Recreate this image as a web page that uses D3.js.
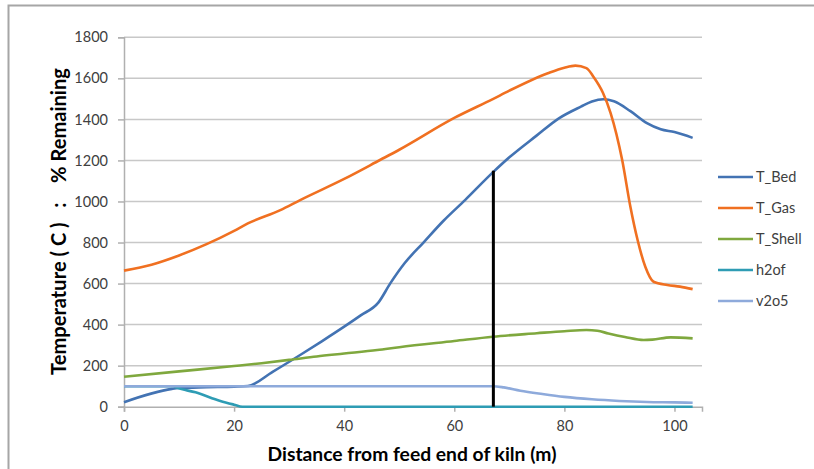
<!DOCTYPE html>
<html><head><meta charset="utf-8">
<script src="https://cdn.jsdelivr.net/npm/d3@7"></script>
<style>body{margin:0;background:#fff}svg{display:block}</style>
</head><body>
<script>
const xTicks = [0,20,40,60,80,100];
const yTicks = [0,200,400,600,800,1000,1200,1400,1600,1800];
const seriesNames = ["T_Bed","T_Gas","T_Shell","h2of","v2o5"];
const colors = ["#4373b3","#f07021","#7fa83e","#2e9cb4","#8eaadb"];
const tBed = [[0,22],[8.7,87],[10,91],[15,95],[20,98],[22.5,101],[27,170],[32,252],[36,320],[40,390],[43,445],[46.2,507],[48.4,602],[51,700],[54.4,800],[58,905],[62,1008],[67.1,1144],[70,1215],[75,1322],[79,1405],[83,1462],[85,1487],[87.1,1498],[89,1488],[92,1440],[95,1382],[97.5,1352],[100,1338],[103.3,1310]];
const tGas = [[0,663],[5,692],[10,737],[15,792],[20,857],[22.5,893],[28.4,958],[32,1007],[40,1110],[46.5,1202],[50,1252],[60,1407],[67,1499],[70,1540],[77,1625],[80,1652],[82,1662],[84,1650],[85.3,1607],[87,1530],[88.4,1431],[90.5,1202],[92,973],[93.3,812],[94.7,682],[96.2,609],[98.7,593],[101,585],[103.3,573]];
const tShell = [[0,146],[10,172],[20,198],[25,212],[30,228],[35,245],[40,259],[46,276],[50,290],[60,320],[67,341],[75,358],[80,368],[84,374],[86,370],[88,357],[91,340],[94.4,325],[96,327],[99.3,338],[103.3,333]];
const h2of = [[0,100],[9,100],[9.6,93],[13,70],[17.5,28],[20,10],[21.5,0],[40,0],[60,0],[80,0],[103.3,0]];
const v2o5 = [[0,100],[20,100],[40,100],[60,100],[67,100],[69,94],[72,78],[76,62],[80,48],[85,36],[90,28],[95,23],[100,21],[103.3,19]];
const markerX = 67.1, markerY = 1150;

const W=814,H=469;
const svg=d3.select("body").append("svg").attr("width",W).attr("height",H);
svg.append("rect").attr("x",8.5).attr("y",5.5).attr("width",830).attr("height",490).attr("fill","#fff").attr("stroke","#a6a6a6").attr("stroke-width",2);

const x=d3.scaleLinear().domain([0,105]).range([124,702]);
const y=d3.scaleLinear().domain([0,1800]).range([406.7,37.3]);
const font="Lato, 'Open Sans', sans-serif";

svg.append("g").selectAll("line").data(yTicks.filter(d=>d>0)).join("line")
  .attr("x1",x(0)).attr("x2",x(105)).attr("y1",d=>y(d)).attr("y2",d=>y(d))
  .attr("stroke","#c8c8c8").attr("stroke-width",1.5);

const yAxis=svg.append("g").attr("transform",`translate(${x(0)},0)`)
  .call(d3.axisLeft(y).tickValues(yTicks).tickFormat(d3.format("d")).tickSize(6).tickPadding(10));
const xAxis=svg.append("g").attr("transform",`translate(0,${y(0)})`)
  .call(d3.axisBottom(x).tickValues(xTicks).tickFormat(d3.format("d")).tickSize(5).tickPadding(9));
[yAxis,xAxis].forEach(g=>{
  g.select(".domain").attr("stroke","#b0b0b0").attr("stroke-width",1.5);
  g.selectAll(".tick line").attr("stroke","#b0b0b0").attr("stroke-width",1.5);
  g.selectAll("text").attr("font-family",font).attr("font-size",14.5).attr("fill","#404040");
});

const line=d3.line().x(d=>x(d[0])).y(d=>y(d[1])).curve(d3.curveMonotoneX);
const data=[tBed,tGas,tShell,h2of,v2o5];
data.forEach((s,i)=>{
  svg.append("path").datum(s).attr("d",line).attr("fill","none")
    .attr("stroke",colors[i]).attr("stroke-width",2.6).attr("stroke-linejoin","round");
});
svg.append("line").attr("x1",x(markerX)).attr("x2",x(markerX)).attr("y1",y(0)).attr("y2",y(markerY))
  .attr("stroke","#000").attr("stroke-width",3);

const leg=svg.append("g");
seriesNames.forEach((n,i)=>{
  const cy=177+i*31;
  leg.append("line").attr("x1",718).attr("x2",753).attr("y1",cy).attr("y2",cy).attr("stroke",colors[i]).attr("stroke-width",2.6);
  leg.append("text").attr("x",756).attr("y",cy).attr("dy","0.35em").attr("font-family",font).attr("font-size",14.5).attr("fill","#404040").text(n);
});

function fit(t,target){
  const w=t.node().getComputedTextLength();
  const fs=+t.attr("font-size");
  t.attr("font-size",(fs*target/w).toFixed(2));
}
const xt=svg.append("text").attr("x",412).attr("y",461).attr("text-anchor","middle").attr("font-family",font)
  .attr("font-weight","bold").attr("font-size",16).attr("fill","#000").text("Distance from feed end of kiln (m)");
fit(xt,289);
const yt=svg.append("text").attr("transform","translate(66,221.5) rotate(-90)").attr("text-anchor","middle").attr("font-family",font)
  .attr("font-weight","bold").attr("font-size",16).attr("fill","#000").attr("xml:space","preserve").style("white-space","pre")
  .text("Temperature ( C )   :    % Remaining");
fit(yt,307);
</script>
</body></html>
